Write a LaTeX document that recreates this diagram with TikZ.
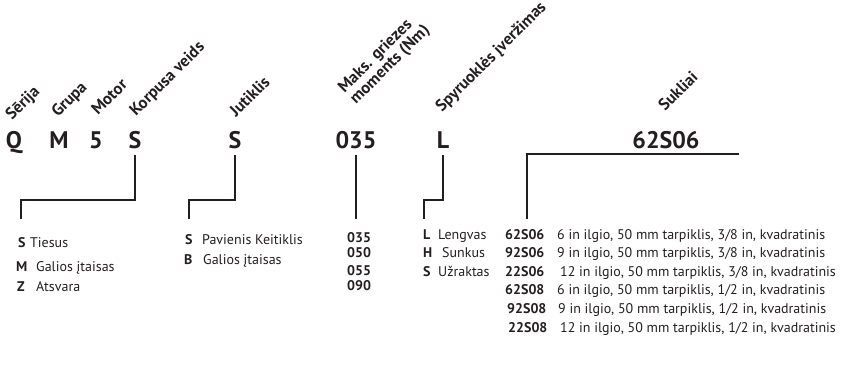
\documentclass[tikz,border=0pt]{standalone}
\usepackage{fontspec}
\setmainfont{PT Sans}
\usetikzlibrary{positioning}
\definecolor{ink}{HTML}{231F20}

\begin{document}
\begin{tikzpicture}[x=1pt,y=-1pt]

    \tikzset{
      code/.style={
        font=\fontsize{24}{26}\selectfont\bfseries,
        text=ink,
        inner sep=0pt,
        anchor=base,
      },
      lbl/.style={
        font=\fontsize{16.5}{15}\selectfont\bfseries,
        text=ink,
        inner sep=0pt,
        anchor=base west,
        rotate=45,
        align=left,
      },
      key/.style={
        font=\fontsize{14}{15}\selectfont\bfseries,
        text=ink,
        inner sep=0pt,
        anchor=base west,
      },
      txt/.style={
        font=\fontsize{14}{16}\selectfont,
        text=ink,
        inner sep=0pt,
        anchor=base west,
      },
      wire/.style={
        draw=ink,
        line width=1.6pt,
      },
    }
    \useasboundingbox (0,0) rectangle (841,365);

	\node[code] (cQ) at (14,148) {Q};
	\node[code] (cM) at (59,148) {M};
	\node[code] (c5) at (96,148) {5};
	\node[code] (cK) at (135,148) {S};
	\node[code] (cJ) at (235,148) {S};
	\node[code] (cT) at (356,148) {035};
	\node[code] (cL) at (443,148) {L};
	\node[code] (cB) at (666,148) {62S06};

	\node[lbl] (lQ) at (12,121) {Sērija};
	\node[lbl] (lM) at (58,118) {Grupa};
	\node[lbl] (l5) at (98,116) {Motor};
	\node[lbl] (lK) at (136,117) {Korpusa veids};
	\node[lbl] (lJ) at (236,118) {Jutiklis};
	\node[lbl] (lT) at (356,105) {Maks. griezes\\moments (Nm)};
	\node[lbl] (lL) at (442,113) {Spyruoklės įveržimas};
	\node[lbl] (lB) at (665,112) {Sukliai};

% korpusa veids
	\node[key] (kS) at (18,247) {S};
	\node[txt] at (30,247) {Tiesus};
	\node[key] (kM) at (16,271) {M};
	\node[txt] at (36,271) {Galios įtaisas};
	\node[key] (kZ) at (17,291) {Z};
	\node[txt] at (36,291) {Atsvara};
	\coordinate (kTop) at (21,219);

% jutiklis
	\node[key] (jS) at (185,244) {S};
	\node[txt] at (202,244) {Pavienis Keitiklis};
	\node[key] (jB) at (184,264) {B};
	\node[txt] at (203,264) {Galios įtaisas};
	\coordinate (jTop) at (189,219);

% momentas
	\node[key] (t1) at (347,242) {035};
	\node[key] (t2) at (347,257) {050};
	\node[key] (t3) at (347,275) {055};
	\node[key] (t4) at (347,290) {090};
	\coordinate (tTop) at (356,219);

% spyruokle
	\node[key] (sL) at (423,239) {L};
	\node[txt] at (438,239) {Lengvas};
	\node[key] (sH) at (423,257) {H};
	\node[txt] at (442,257) {Sunkus};
	\node[key] (sS) at (423,276) {S};
	\node[txt] at (438,276) {Užraktas};
	\coordinate (sTop) at (424,219);

% sukliai
	\node[key] (b1) at (505,239) {62S06};
	\node[txt] at (557,239) {6 in ilgio, 50 mm tarpiklis, 3/8 in, kvadratinis};
	\node[key] (b2) at (505,257) {92S06};
	\node[txt] at (557,257) {9 in ilgio, 50 mm tarpiklis, 3/8 in, kvadratinis};
	\node[key] (b3) at (505,276) {22S06};
	\node[txt] at (560,276) {12 in ilgio, 50 mm tarpiklis, 3/8 in, kvadratinis};
	\node[key] (b4) at (505,294) {62S08};
	\node[txt] at (557,294) {6 in ilgio, 50 mm tarpiklis, 1/2 in, kvadratinis};
	\node[key] (b5) at (507,313) {92S08};
	\node[txt] at (558,313) {9 in ilgio, 50 mm tarpiklis, 1/2 in, kvadratinis};
	\node[key] (b6) at (508,332) {22S08};
	\node[txt] at (560,332) {12 in ilgio, 50 mm tarpiklis, 1/2 in, kvadratinis};
	\coordinate (bTop) at (527,219);
	\coordinate (bEnd) at (739,154);

	\draw[wire] ([yshift=-7pt]cK.base) -- ++(0,45) -| (kTop);
	\draw[wire] ([yshift=-7pt]cJ.base) -- ++(0,45) -| (jTop);
	\draw[wire] ([yshift=-7pt]cT.base) -- (tTop);
	\draw[wire] ([yshift=-7pt]cL.base) -- ++(0,45) -| (sTop);
	\draw[wire] (bTop) |- (bEnd);

\end{tikzpicture}
\end{document}
